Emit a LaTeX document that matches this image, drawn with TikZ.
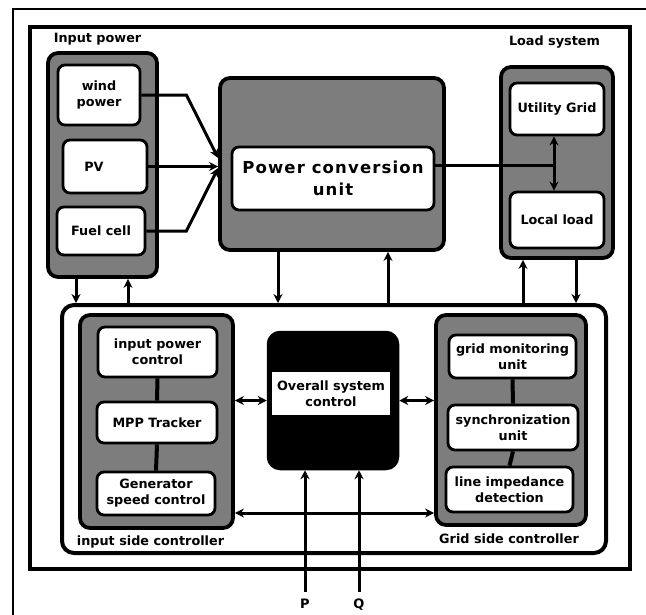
\documentclass[tikz,border=0pt]{standalone}
\usepackage{fontspec}
\setmainfont{DejaVu Sans}
\usetikzlibrary{arrows.meta}
\definecolor{midgray}{RGB}{125,125,125}
\tikzset{
  txt/.style={font=\bfseries\fontsize{12.8}{16}\selectfont},
  graybox/.style={draw=black, line width=3.8pt, fill=midgray, rounded corners=10pt, inner sep=0pt},
  whitebox/.style={draw=black, line width=2.8pt, fill=white, rounded corners=7pt, inner sep=1pt, align=center, txt},
  conn/.style={line width=3pt},
  link/.style={line width=4pt},
  arr/.style={conn, -{Stealth[length=9pt,width=9pt]}},
  darr/.style={conn, {Stealth[length=9pt,width=9pt]}-{Stealth[length=9pt,width=9pt]}},
  lbl/.style={txt, inner sep=0pt}
}
\begin{document}
\begin{tikzpicture}[x=1pt, y=-1pt]
\useasboundingbox (0,0) rectangle (646,614);
% outer thin frame
\draw[line width=1.5pt] (13,620) -- (13,9) -- (650,9);
% inner thick frame
\node[draw=black, line width=4pt, minimum width=600pt, minimum height=542pt, inner sep=0pt] (sys) at (330,298) {};
\node[lbl] (inplab) at (97.5,39) {Input power};
\node[lbl] (loadlab) at (554.5,42) {Load system};

% input power group
\node[graybox, minimum width=109pt, minimum height=224pt] (inp) at (102.5,165) {};
\node[whitebox, minimum width=82pt, minimum height=60pt] (wind) at (99,95) {wind\\power};
\node[whitebox, minimum width=84pt, minimum height=53pt] (pv) at (105,166.5) {PV\hspace*{22pt}};
\node[whitebox, minimum width=88pt, minimum height=48pt] (fuel) at (101,231) {Fuel cell};

% power conversion unit
\node[graybox, minimum width=224pt, minimum height=172pt] (pcu) at (332,164) {};
\node[whitebox, minimum width=202pt, minimum height=63pt, font=\bfseries\fontsize{16.5}{22}\selectfont\addfontfeature{LetterSpace=7}] (pcui) at (333,178.5) {Power conversion\\unit};

% load system
\node[graybox, minimum width=112pt, minimum height=191pt] (ld) at (557,162.5) {};
\node[whitebox, minimum width=94pt, minimum height=52pt] (ug) at (557,109) {Utility Grid};
\node[whitebox, minimum width=94pt, minimum height=56pt] (ll) at (557,220) {Local load};

% controller frame
\node[draw=black, line width=4pt, rounded corners=12pt, minimum width=544pt, minimum height=248pt, inner sep=0pt] (ctrl) at (334,429) {};

% input side controller
\node[graybox, minimum width=153pt, minimum height=213pt] (isc) at (156.5,421.5) {};
\node[whitebox, minimum width=119pt, minimum height=50pt] (ipc) at (157.5,352) {input power\\control};
\node[whitebox, minimum width=120pt, minimum height=41pt] (mpp) at (157,422.5) {MPP Tracker};
\node[whitebox, minimum width=118pt, minimum height=43pt] (gen) at (156,493.5) {Generator\\speed control};
\node[lbl] (isclab) at (150.5,542) {input side controller};

% overall system control
\node[draw=black, line width=2.5pt, fill=black, rounded corners=12pt, minimum width=130pt, minimum height=137pt, inner sep=0pt] (ovr) at (333,400.5) {};
\node[fill=white, minimum width=118pt, minimum height=43pt, inner sep=0pt, align=center, txt] (ovrt) at (331,393.5) {Overall system\\control};

% grid side controller
\node[graybox, minimum width=150pt, minimum height=210pt] (gsc) at (511,420) {};
\node[whitebox, minimum width=127pt, minimum height=43pt] (gmu) at (512.5,356.5) {grid monitoring\\unit};
\node[whitebox, minimum width=130pt, minimum height=45pt] (syn) at (513,427.5) {synchronization\\unit};
\node[whitebox, minimum width=127pt, minimum height=45pt] (lid) at (509.5,489.5) {line impedance\\detection};
\node[lbl] (gsclab) at (509,539) {Grid side controller};

% P and Q
\node[lbl, anchor=north, font=\bfseries\fontsize{13}{16}\selectfont] (plab) at (305,599) {P};
\node[lbl, anchor=north, font=\bfseries\fontsize{13}{16}\selectfont] (qlab) at (359,599) {Q};

% source connectors
\draw[arr] (wind.east) -- ++(45,0) -- ([yshift=6pt]pcu.west);
\draw[arr] (pv.east) -- (pv.east -| pcu.west);
\draw[arr] (fuel.east) -- ++(40,0) -- ([yshift=-4pt]pcu.west);

% pcu to load
\draw[conn] ([yshift=13.5pt]pcui.east) -- ([yshift=13.5pt,xshift=-3pt]pcui.east -| ug.south);
\draw[darr] ([xshift=-3pt]ug.south) -- ([xshift=-3pt]ll.north);

% vertical connectors to controller
\draw[arr] ([xshift=-26.5pt]inp.south) -- ([xshift=-26.5pt]inp.south |- ctrl.north);
\draw[arr] ([xshift=25.5pt]inp.south |- ctrl.north) -- ([xshift=25.5pt]inp.south);
\draw[arr] ([xshift=-54pt]pcu.south) -- ([xshift=-54pt]pcu.south |- ctrl.north);
\draw[arr] ([xshift=56pt]pcu.south |- ctrl.north) -- ([xshift=56pt]pcu.south);
\draw[arr] ([xshift=-34pt]ld.south |- ctrl.north) -- ([xshift=-34pt]ld.south);
\draw[arr] ([xshift=19pt]ld.south) -- ([xshift=19pt]ld.south |- ctrl.north);

% internal links
\draw[link] (ipc.south) -- (mpp.north);
\draw[link] (mpp.south) -- (gen.north);
\draw[link] (gmu.south) -- (syn.north);
\draw[link] (syn.south) -- (lid.north);

% controller links
\draw[darr] (ovr.west -| isc.east) -- (ovr.west);
\draw[darr] (ovr.east) -- (ovr.east -| gsc.west);
\draw[darr] ([yshift=-91.5pt]isc.east) -- ([yshift=-91.5pt]isc.east -| gsc.west);

% P, Q inputs
\draw[arr] (plab.north) ++(0,-7) -- (plab.north |- ovr.south);
\draw[arr] (qlab.north) ++(0,-7) -- (qlab.north |- ovr.south);
\end{tikzpicture}
\end{document}
